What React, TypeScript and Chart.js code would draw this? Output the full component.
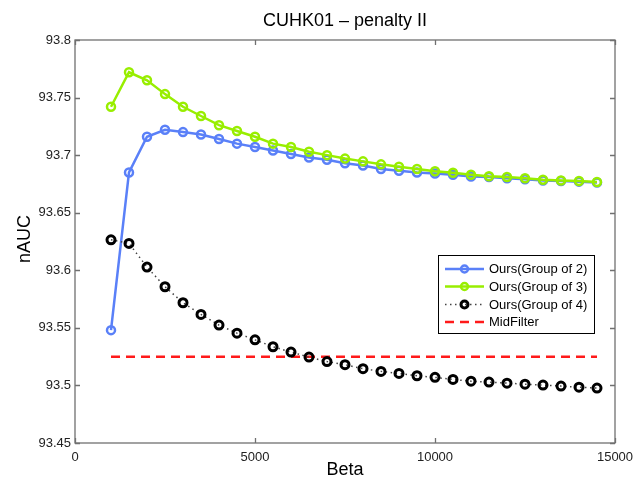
import React, { useEffect, useRef } from "react";
import { Chart, registerables } from "chart.js";

Chart.register(...registerables);

const betas = [1000, 1500, 2000, 2500, 3000, 3500, 4000, 4500, 5000, 5500, 6000, 6500, 7000, 7500,
  8000, 8500, 9000, 9500, 10000, 10500, 11000, 11500, 12000, 12500, 13000, 13500, 14000, 14500];

const group2 = [93.548, 93.685, 93.716, 93.722, 93.720, 93.718, 93.714, 93.710, 93.707, 93.704,
  93.701, 93.698, 93.696, 93.693, 93.691, 93.688, 93.6865, 93.685, 93.684, 93.683, 93.6815,
  93.681, 93.680, 93.679, 93.678, 93.6775, 93.677, 93.6763];

const group3 = [93.742, 93.772, 93.765, 93.753, 93.742, 93.734, 93.726, 93.721, 93.716, 93.710,
  93.707, 93.703, 93.700, 93.697, 93.6946, 93.692, 93.690, 93.688, 93.686, 93.6847, 93.683,
  93.6816, 93.681, 93.680, 93.6786, 93.678, 93.6775, 93.6766];

const group4 = [93.6265, 93.6233, 93.6028, 93.5857, 93.5718, 93.5617, 93.5524, 93.5454, 93.5396,
  93.5336, 93.529, 93.5246, 93.5207, 93.518, 93.5145, 93.5122, 93.5104, 93.5084, 93.507, 93.5052,
  93.5037, 93.5029, 93.502, 93.5011, 93.5003, 93.4994, 93.4985, 93.4977];

const midFilterX = [1000, 14500];
const midFilterY = [93.525, 93.525];

const xTicks = [0, 5000, 10000, 15000];
const yTicks = [93.45, 93.5, 93.55, 93.6, 93.65, 93.7, 93.75, 93.8];

const seriesLabels = ["Ours(Group of 2)", "Ours(Group of 3)", "Ours(Group of 4)", "MidFilter"];
const titleText = "CUHK01 \u2013 penalty II";
const xTitle = "Beta";
const yTitle = "nAUC";

const FONT = "'Liberation Sans', Arial, Helvetica, sans-serif";
const BLUE = "#5a80f8";
const GREEN = "#98ee00";
const RED = "#ff1a1a";
const BLACK = "#000000";

const pts = (xs: number[], ys: number[]) => xs.map((x, i) => ({ x, y: ys[i] }));

const decorPlugin = {
  id: "decor",
  afterDraw(chart: any) {
    const ctx = chart.ctx as CanvasRenderingContext2D;
    const { left, right, top, bottom } = chart.chartArea;
    const xs = chart.scales.x;
    const ys = chart.scales.y;
    ctx.save();
    // frame
    ctx.strokeStyle = "#707070";
    ctx.lineWidth = 1.3;
    ctx.strokeRect(left, top, right - left, bottom - top);
    // inward ticks
    const tl = 5;
    ctx.beginPath();
    xTicks.forEach((v) => {
      const px = Math.round(xs.getPixelForValue(v)) + 0.5;
      ctx.moveTo(px, bottom);
      ctx.lineTo(px, bottom - tl);
      ctx.moveTo(px, top);
      ctx.lineTo(px, top + tl);
    });
    yTicks.forEach((v) => {
      const py = Math.round(ys.getPixelForValue(v)) + 0.5;
      ctx.moveTo(left, py);
      ctx.lineTo(left + tl, py);
      ctx.moveTo(right, py);
      ctx.lineTo(right - tl, py);
    });
    ctx.stroke();

    // titles
    ctx.fillStyle = "#000";
    ctx.textAlign = "center";
    ctx.textBaseline = "middle";
    ctx.font = `18px ${FONT}`;
    ctx.fillText(titleText, (left + right) / 2, 21);
    ctx.fillText(xTitle, (left + right) / 2, 470);
    ctx.save();
    ctx.translate(25, 239);
    ctx.rotate(-Math.PI / 2);
    ctx.fillText(yTitle, 0, 0);
    ctx.restore();

    // legend
    const bx = 438, by = 255, bw = 156, bh = 78;
    ctx.fillStyle = "#fff";
    ctx.fillRect(bx, by, bw, bh);
    ctx.strokeStyle = "#000";
    ctx.lineWidth = 1;
    ctx.strokeRect(bx + 0.5, by + 0.5, bw, bh);
    const rows = [269, 286.5, 304.5, 322];
    const ds = chart.data.datasets;
    ctx.font = `13px ${FONT}`;
    ctx.textAlign = "left";
    rows.forEach((ry, i) => {
      const d = ds[i];
      ctx.save();
      ctx.strokeStyle = d.borderColor;
      ctx.lineWidth = d.borderWidth;
      ctx.setLineDash(d.borderDash || []);
      ctx.beginPath();
      ctx.moveTo(445, ry);
      ctx.lineTo(484, ry);
      ctx.stroke();
      ctx.setLineDash([]);
      if (d.pointRadius > 0) {
        ctx.strokeStyle = d.pointBorderColor;
        ctx.lineWidth = d.pointBorderWidth;
        ctx.beginPath();
        ctx.arc(464.5, ry, d.pointRadius - 0.5, 0, Math.PI * 2);
        ctx.stroke();
      }
      ctx.restore();
      ctx.fillStyle = "#000";
      ctx.fillText(seriesLabels[i], 489, ry + 0.5);
    });
    ctx.restore();
  },
};

export default function App() {
  const ref = useRef<HTMLCanvasElement | null>(null);
  useEffect(() => {
    if (!ref.current) return;
    const chart = new Chart(ref.current, {
      type: "line",
      data: {
        datasets: [
          {
            label: seriesLabels[0],
            data: pts(betas, group2),
            borderColor: BLUE,
            borderWidth: 2.5,
            pointRadius: 4,
            pointBorderWidth: 2.5,
            pointBorderColor: BLUE,
            pointBackgroundColor: "transparent",
            order: 3,
          },
          {
            label: seriesLabels[1],
            data: pts(betas, group3),
            borderColor: GREEN,
            borderWidth: 2.5,
            pointRadius: 4,
            pointBorderWidth: 2.5,
            pointBorderColor: GREEN,
            pointBackgroundColor: "transparent",
            order: 2,
          },
          {
            label: seriesLabels[2],
            data: pts(betas, group4),
            borderColor: "#444",
            borderWidth: 1.5,
            borderDash: [1.5, 3.5],
            pointRadius: 4,
            pointBorderWidth: 3,
            pointBorderColor: BLACK,
            pointBackgroundColor: "transparent",
            order: 1,
          },
          {
            label: seriesLabels[3],
            data: pts(midFilterX, midFilterY),
            borderColor: RED,
            borderWidth: 2.5,
            borderDash: [9, 6],
            pointRadius: 0,
            pointBorderWidth: 0,
            pointBorderColor: RED,
            order: 4,
          },
        ] as any,
      },
      options: {
        animation: false,
        responsive: false,
        devicePixelRatio: 1,
        layout: { padding: { left: 0, right: 29, top: 40, bottom: 0 } },
        plugins: { legend: { display: false }, title: { display: false }, tooltip: { enabled: false } },
        scales: {
          x: {
            type: "linear",
            min: 0,
            max: 15000,
            grid: { display: false, drawTicks: false },
            border: { display: false },
            afterFit: (s: any) => { s.height = 39; },
            afterBuildTicks: (s: any) => { s.ticks = xTicks.map((v) => ({ value: v })); },
            ticks: {
              padding: 7,
              color: "#222",
              font: { family: FONT, size: 13 },
              maxRotation: 0,
              callback: (v: any) => String(v),
            },
          },
          y: {
            type: "linear",
            min: 93.45,
            max: 93.8,
            grid: { display: false, drawTicks: false },
            border: { display: false },
            afterFit: (s: any) => { s.width = 75; },
            afterBuildTicks: (s: any) => { s.ticks = yTicks.map((v) => ({ value: v })); },
            ticks: {
              padding: 4,
              color: "#222",
              font: { family: FONT, size: 13 },
              callback: (v: any) => String(parseFloat(Number(v).toFixed(2))),
            },
          },
        },
      },
      plugins: [decorPlugin],
    });
    return () => chart.destroy();
  }, []);
  return (
    <div style={{ position: "absolute", left: 0, top: 0, width: 644, height: 482, background: "#fff" }}>
      <canvas ref={ref} width={644} height={482} />
    </div>
  );
}
